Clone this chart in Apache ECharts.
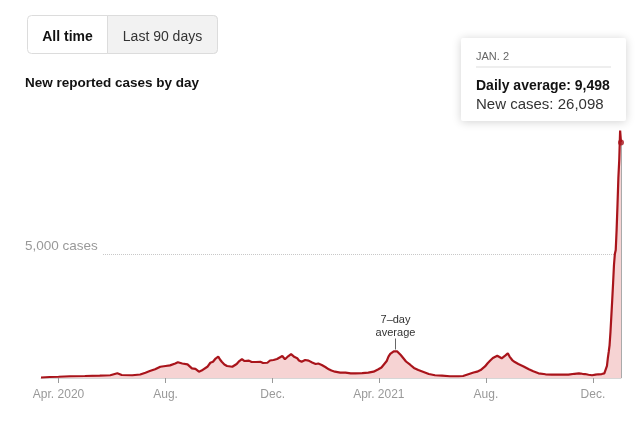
<!DOCTYPE html>
<html><head><meta charset="utf-8">
<script src="https://cdn.jsdelivr.net/npm/echarts@6/dist/echarts.min.js"></script>
<style>html,body{margin:0;padding:0;background:#fff}#c{width:640px;height:432px}</style>
</head><body><div id="c"></div>
<script>
// ---- data ----
const dates = [
 '2020-03-12','2020-03-22','2020-04-01','2020-04-14','2020-05-01','2020-05-18','2020-05-30','2020-06-07','2020-06-12','2020-06-24',
 '2020-07-03','2020-07-09','2020-07-14','2020-07-20','2020-07-26','2020-08-01','2020-08-06','2020-08-12','2020-08-15','2020-08-20',
 '2020-08-26','2020-08-31','2020-09-04','2020-09-08','2020-09-11','2020-09-13','2020-09-18','2020-09-21','2020-09-24','2020-09-27',
 '2020-09-30','2020-10-02','2020-10-04','2020-10-07','2020-10-10','2020-10-16','2020-10-18','2020-10-21','2020-10-24','2020-10-27',
 '2020-10-30','2020-11-01','2020-11-04','2020-11-07','2020-11-09','2020-11-12','2020-11-17','2020-11-20','2020-11-25','2020-11-28',
 '2020-12-02','2020-12-06','2020-12-12','2020-12-13','2020-12-15','2020-12-19','2020-12-22','2020-12-26','2020-12-29','2020-12-31',
 '2021-01-03','2021-01-07','2021-01-11','2021-01-15','2021-01-19','2021-01-22','2021-01-26','2021-01-30','2021-02-03','2021-02-06',
 '2021-02-10','2021-02-16','2021-02-22','2021-02-28','2021-03-05','2021-03-13','2021-03-20','2021-03-26','2021-03-31','2021-04-04',
 '2021-04-06','2021-04-10','2021-04-12','2021-04-14','2021-04-16','2021-04-18','2021-04-20','2021-04-22','2021-04-24','2021-04-26',
 '2021-04-29','2021-05-02','2021-05-07','2021-05-11','2021-05-16','2021-05-22','2021-05-28','2021-06-04','2021-06-12','2021-06-21',
 '2021-07-01','2021-07-06','2021-07-12','2021-07-18','2021-07-22','2021-07-26','2021-07-31','2021-08-03','2021-08-06','2021-08-09',
 '2021-08-14','2021-08-16','2021-08-19','2021-08-21','2021-08-23','2021-08-26','2021-08-28','2021-08-31','2021-09-03','2021-09-07',
 '2021-09-13','2021-09-19','2021-09-24','2021-09-30','2021-10-08','2021-10-15','2021-10-25','2021-11-03','2021-11-10','2021-11-15',
 '2021-11-19','2021-11-22','2021-11-26','2021-11-30','2021-12-04','2021-12-07','2021-12-11','2021-12-14','2021-12-15','2021-12-16',
 '2021-12-17','2021-12-18','2021-12-19','2021-12-20','2021-12-21','2021-12-22','2021-12-23','2021-12-24','2021-12-25','2021-12-26',
 '2021-12-27','2021-12-28','2021-12-29','2021-12-30','2021-12-31','2022-01-01','2022-01-02'
];
const dailyAverage = [
 20,40,50,70,80,95,110,190,120,110,
 140,215,280,350,455,485,510,585,635,585,
 550,390,365,255,300,350,465,615,655,785,
 860,745,655,545,485,455,525,565,685,765,
 685,745,700,645,565,645,655,605,615,705,
 725,765,885,825,755,885,965,845,795,705,
 655,725,700,625,565,585,525,445,350,300,
 255,220,215,190,190,200,215,255,345,425,
 485,685,860,970,1020,1075,1090,1070,1020,925,
 795,665,525,405,320,240,160,110,95,70,
 70,80,150,220,255,320,465,595,705,805,
 900,865,795,860,905,995,865,725,645,565,
 465,350,270,190,150,135,135,135,170,190,
 170,160,130,110,135,150,160,185,200,240,
 485,805,1050,1330,1855,2500,3145,3830,4555,5000,
 5160,5970,6975,8065,8790,9980,9498
];
const tickDates = ['2020-04-01','2020-08-01','2020-12-01','2021-04-01','2021-08-01','2021-12-01'];
const tickLabels = ['Apr. 2020','Aug.','Dec.','Apr. 2021','Aug.','Dec.'];
const yGridValue = 5000;
const yGridLabel = '5,000 cases';
const annotationDate = '2021-04-20';
const annotationText = '7–day\naverage';
const hoverNewCases = 26098;
const buttonLabels = ['All time', 'Last 90 days'];
const titleText = 'New reported cases by day';

// ---- helpers ----
const DAY = 86400000;
function toDay(s){const p=s.split('-').map(Number);return Math.round(Date.UTC(p[0],p[1]-1,p[2])/DAY);}
function fmt(n){return n.toLocaleString('en-US');}
const MONTHS=['JAN.','FEB.','MARCH','APRIL','MAY','JUNE','JULY','AUG.','SEPT.','OCT.','NOV.','DEC.'];

const seriesData = dates.map((d,i)=>[toDay(d), dailyAverage[i]]);
const tickDays = tickDates.map(toDay);
const lastX = seriesData[seriesData.length-1][0];
const lastV = seriesData[seriesData.length-1][1];
const lastDate = new Date(lastX*DAY);
const annIdx = dates.indexOf(annotationDate);

const FONT = '"Liberation Sans", Arial, sans-serif';
const RED = '#a9141b';

const chart = echarts.init(document.getElementById('c'), null, {renderer:'canvas'});
chart.setOption({
  animation:false,
  textStyle:{fontFamily:FONT},
  grid:{left:41, right:19, top:130, bottom:54, containLabel:false},
  xAxis:{
    type:'value', min:seriesData[0][0], max:lastX,
    axisLine:{show:true, lineStyle:{color:'#d6d6d6', width:1}},
    axisTick:{show:true, length:5, lineStyle:{color:'#999'}, customValues:tickDays},
    axisLabel:{show:true, customValues:tickDays, color:'#999', fontSize:12, margin:11, fontFamily:FONT,
      formatter:(v)=>{const i=tickDays.indexOf(v);return i>=0?tickLabels[i]:'';}},
    splitLine:{show:false}
  },
  yAxis:{
    type:'value', min:0, max:10000, interval:yGridValue,
    axisLine:{show:false}, axisTick:{show:false},
    splitLine:{show:true, showMinLine:false, showMaxLine:false, lineStyle:{color:'#c8c8c8', type:'dotted', width:1}},
    axisLabel:{inside:true, margin:-16, color:'#999', fontSize:13.5, fontFamily:FONT, verticalAlign:'middle',
      lineHeight:16, backgroundColor:'#fff', padding:[0,5,0,0],
      formatter:(v)=> v===yGridValue ? yGridLabel + '\n ' : ''}
  },
  series:[
    {
      type:'line', data:seriesData, showSymbol:false, smooth:false,
      lineStyle:{color:RED, width:2.2}, itemStyle:{color:RED},
      areaStyle:{color:'#f6d3d3', opacity:1},
      z:3,
      markLine:{silent:true, symbol:['none','none'], label:{show:false},
        lineStyle:{color:'#aaa', width:1, type:'solid'},
        data:[[{coord:[lastX,0]},{coord:[lastX,lastV]}]]},
      markPoint:{silent:true,
        data:[{coord:[seriesData[annIdx][0], seriesData[annIdx][1]], symbol:'rect', symbolSize:[1,11], symbolOffset:[0,-7],
          itemStyle:{color:'#666'},
          label:{show:true, position:'top', distance:-1.5, formatter:annotationText, color:'#333', fontSize:11, lineHeight:13, fontFamily:FONT}}]}
    },
    {
      type:'scatter', data:[[lastX,lastV]], symbol:'circle', symbolSize:6, itemStyle:{color:RED}, z:5, silent:true
    }
  ],
  graphic:[
    {type:'group', left:27, top:15, children:[
      {type:'rect', shape:{x:0,y:0,width:190,height:38,r:4}, style:{fill:'#fff', stroke:'#dcdcdc', lineWidth:1}},
      {type:'rect', shape:{x:80,y:0,width:110,height:38,r:[0,4,4,0]}, style:{fill:'#f2f2f2', stroke:'#dcdcdc', lineWidth:1}},
      {type:'text', x:40, y:22, style:{text:buttonLabels[0], font:'bold 14px '+FONT, fill:'#121212', align:'center', verticalAlign:'middle'}},
      {type:'text', x:135, y:22, style:{text:buttonLabels[1], font:'14px '+FONT, fill:'#333', align:'center', verticalAlign:'middle'}}
    ]},
    {type:'text', left:25, top:76, style:{text:titleText, font:'bold 13.5px '+FONT, fill:'#121212'}},
    {type:'group', left:461, top:38, children:[
      {type:'rect', shape:{x:0,y:0,width:165,height:83,r:2}, style:{fill:'#fff', shadowBlur:10, shadowColor:'rgba(0,0,0,0.18)', shadowOffsetY:1}},
      {type:'text', x:15, y:19, style:{text:MONTHS[lastDate.getUTCMonth()]+' '+lastDate.getUTCDate(), font:'11px '+FONT, fill:'#666', verticalAlign:'middle'}},
      {type:'line', shape:{x1:15,y1:29,x2:150,y2:29}, style:{stroke:'#ddd', lineWidth:1}},
      {type:'text', x:15, y:48, style:{text:'Daily average: '+fmt(lastV), font:'bold 14px '+FONT, fill:'#121212', verticalAlign:'middle'}},
      {type:'text', x:15, y:67, style:{text:'New cases: '+fmt(hoverNewCases), font:'15px '+FONT, fill:'#333', verticalAlign:'middle'}}
    ]}
  ]
});
</script></body></html>
